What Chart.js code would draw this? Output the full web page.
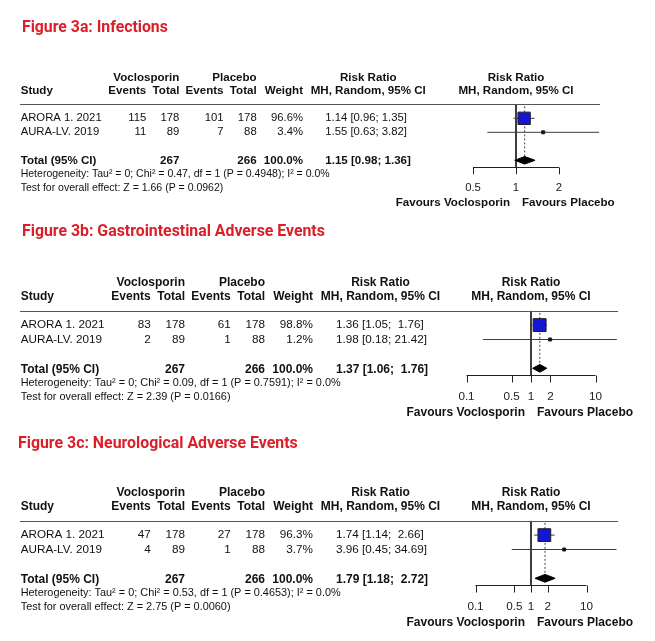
<!DOCTYPE html>
<html>
<head>
<meta charset="utf-8">
<script src="https://cdn.jsdelivr.net/npm/chart.js@4.4.1/dist/chart.umd.min.js"></script>
<style>
  html, body { margin: 0; padding: 0; background: #fff; }
  body { width: 655px; height: 641px; position: relative; overflow: hidden; }
  canvas { position: absolute; left: 0; }
</style>
</head>
<body>
<canvas id="figA" width="655" height="210" style="top:4px"></canvas>
<canvas id="figB" width="655" height="210" style="top:210px"></canvas>
<canvas id="figC" width="655" height="221" style="top:420px"></canvas>
<script>
// shared study info
const studies = ["ARORA 1. 2021", "AURA-LV. 2019"];
const vocTotals = [178, 89];
const plaTotals = [178, 88];

// figure 3a - infections
const infVocEvents = [115, 11];
const infPlaEvents = [101, 7];
const infWeights = [96.6, 3.4];
const infRR = [1.14, 1.55];
const infLower = [0.96, 0.63];
const infUpper = [1.35, 3.82];
const infPooled = [1.15, 0.98, 1.36];
const infHet = [0.47, 0.4948, 1.66, 0.0962]; // chi2, p, z, p
const infTicks = [0.5, 1, 2];

// figure 3b - gastrointestinal
const giVocEvents = [83, 2];
const giPlaEvents = [61, 1];
const giWeights = [98.8, 1.2];
const giRR = [1.36, 1.98];
const giLower = [1.05, 0.18];
const giUpper = [1.76, 21.42];
const giPooled = [1.37, 1.06, 1.76];
const giHet = [0.09, 0.7591, 2.39, 0.0166];
const giTicks = [0.1, 0.5, 1, 2, 10];

// figure 3c - neurological
const neuVocEvents = [47, 4];
const neuPlaEvents = [27, 1];
const neuWeights = [96.3, 3.7];
const neuRR = [1.74, 3.96];
const neuLower = [1.14, 0.45];
const neuUpper = [2.66, 34.69];
const neuPooled = [1.79, 1.18, 2.72];
const neuHet = [0.53, 0.4653, 2.75, 0.0060];
const neuTicks = [0.1, 0.5, 1, 2, 10];

const FONT = '"Liberation Sans", Arial, sans-serif';

const rowsA = { h1: -1.9, h2: -0.95, total: 4.07, diamond: 4.0, het: 5.02, test: 5.97, axis: 4.47, tickLab: 6.0, fav: 7.07 };
const rowsBC = { h1: -1.92, h2: -0.95, total: 4.07, diamond: 4.0, het: 5.05, test: 5.97, axis: 4.47, tickLab: 6.01, fav: 7.08 };

const panels = [
  { id: 'figA', h: 210, title: 'Figure 3a: Infections', titleX: 22, titleY: 24.5, titleW: 146,
    s: 0.966, top: 100.3, step: 14, ref: 516, ppd: 142.8, left: 440, right: 600, rows: rowsA,
    ev1: infVocEvents, ev2: infPlaEvents, w: infWeights, rr: infRR, lo: infLower, hi: infUpper,
    pooled: infPooled, het: infHet, ticks: infTicks },
  { id: 'figB', h: 210, title: 'Figure 3b: Gastrointestinal Adverse Events', titleX: 22, titleY: 21.7, titleW: 303,
    s: 1, top: 100.7, step: 14.4, ref: 531, ppd: 64.5, left: 440, right: 618, rows: rowsBC,
    ev1: giVocEvents, ev2: giPlaEvents, w: giWeights, rr: giRR, lo: giLower, hi: giUpper,
    pooled: giPooled, het: giHet, ticks: giTicks },
  { id: 'figC', h: 221, title: 'Figure 3c: Neurological Adverse Events', titleX: 18, titleY: 24, titleW: 280,
    s: 1, top: 100.7, step: 14.4, ref: 531, ppd: 55.5, left: 440, right: 618, rows: rowsBC,
    ev1: neuVocEvents, ev2: neuPlaEvents, w: neuWeights, rr: neuRR, lo: neuLower, hi: neuUpper,
    pooled: neuPooled, het: neuHet, ticks: neuTicks }
];

function ciText(est, lo, hi, width) {
  return est.toFixed(2) + ' [' + lo.toFixed(2) + '; ' + hi.toFixed(2).padStart(width) + ']';
}

function buildDatasets(p) {
  const d = p.rows.diamond, hh = 0.27;
  const sets = [];
  // weighted squares
  sets.push({
    data: studies.map((_, i) => ({ x: p.rr[i], y: i + 1 })),
    pointStyle: 'rect',
    pointRadius: p.w.map(w => Math.max(1.3 * p.s * Math.sqrt(w), 3) / Math.SQRT2),
    backgroundColor: p.w.map(w => w > 10 ? '#1616d2' : '#111'),
    borderColor: '#1c1c2c',
    borderWidth: 1
  });
  // confidence intervals
  studies.forEach((_, i) => {
    sets.push({
      data: [{ x: p.lo[i], y: i + 1 }, { x: p.hi[i], y: i + 1 }],
      showLine: true, pointRadius: 0, borderColor: '#3c3c3c', borderWidth: 1
    });
  });
  // pooled diamond
  const [est, plo, phi] = p.pooled;
  sets.push({
    data: [{ x: plo, y: d }, { x: est, y: d - hh }, { x: phi, y: d }, { x: est, y: d + hh }, { x: plo, y: d }],
    showLine: true, pointRadius: 0, fill: 'shape',
    backgroundColor: '#000', borderColor: '#000', borderWidth: 1
  });
  // dotted line at pooled estimate
  sets.push({
    data: [{ x: est, y: 0.15 }, { x: est, y: d }],
    showLine: true, pointRadius: 0, borderColor: '#444', borderWidth: 1, borderDash: [2, 2]
  });
  // line of no effect
  sets.push({
    data: [{ x: 1, y: 0 }, { x: 1, y: p.rows.axis }],
    showLine: true, pointRadius: 0, borderColor: '#222', borderWidth: 1
  });
  return sets;
}

function forestText(p) {
  return {
    id: 'forestText',
    afterDraw(chart) {
      const ctx = chart.ctx, xs = chart.scales.x, ys = chart.scales.y, area = chart.chartArea;
      const R = p.rows;
      const Y = v => ys.getPixelForValue(v);
      const X = xb => 20 + (xb - 20) * p.s;
      const reg = (11.7 * p.s) + 'px ' + FONT;
      const bold = 'bold ' + (12 * p.s) + 'px ' + FONT;
      const small = (10.9 * p.s) + 'px ' + FONT;
      const txt = (str, x, y, align, font, color) => {
        ctx.font = font; ctx.textAlign = align; ctx.textBaseline = 'middle';
        ctx.fillStyle = color || '#111'; ctx.fillText(str, x, y);
      };
      ctx.save();

      // title, sized to the reference width
      ctx.font = 'bold 20px Roboto';
      const tSize = 20 * p.titleW / ctx.measureText(p.title).width;
      txt(p.title, p.titleX, p.titleY, 'left', 'bold ' + tSize + 'px Roboto', '#dc1e28');

      // header
      txt('Voclosporin', X(185), Y(R.h1), 'right', bold);
      txt('Placebo', X(265), Y(R.h1), 'right', bold);
      txt('Risk Ratio', X(380.5), Y(R.h1), 'center', bold);
      txt('Study', X(20.7), Y(R.h2), 'left', bold);
      txt('Events', X(150.7), Y(R.h2), 'right', bold);
      txt('Total', X(185), Y(R.h2), 'right', bold);
      txt('Events', X(230.7), Y(R.h2), 'right', bold);
      txt('Total', X(265), Y(R.h2), 'right', bold);
      txt('Weight', X(313), Y(R.h2), 'right', bold);
      txt('MH, Random, 95% CI', X(380.5), Y(R.h2), 'center', bold);
      const x1 = xs.getPixelForValue(1);
      txt('Risk Ratio', x1, Y(R.h1), 'center', bold);
      txt('MH, Random, 95% CI', x1, Y(R.h2), 'center', bold);

      // rule under the header
      ctx.strokeStyle = '#555'; ctx.lineWidth = 1;
      const ty = Math.round(Y(0)) + 0.5;
      ctx.beginPath(); ctx.moveTo(X(20), ty); ctx.lineTo(area.right, ty); ctx.stroke();

      // study rows
      const width = Math.max(...p.hi.map(v => v.toFixed(2).length), p.pooled[2].toFixed(2).length);
      studies.forEach((name, i) => {
        const y = Y(i + 1);
        txt(name, X(20.7), y, 'left', reg);
        txt(String(p.ev1[i]), X(150.7), y, 'right', reg);
        txt(String(vocTotals[i]), X(185), y, 'right', reg);
        txt(String(p.ev2[i]), X(230.7), y, 'right', reg);
        txt(String(plaTotals[i]), X(265), y, 'right', reg);
        txt(p.w[i].toFixed(1) + '%', X(313), y, 'right', reg);
        txt(ciText(p.rr[i], p.lo[i], p.hi[i], width), X(336), y, 'left', reg);
      });

      // total row
      const yt = Y(R.total);
      txt('Total (95% CI)', X(20.7), yt, 'left', bold);
      txt(String(vocTotals.reduce((a, b) => a + b, 0)), X(185), yt, 'right', bold);
      txt(String(plaTotals.reduce((a, b) => a + b, 0)), X(265), yt, 'right', bold);
      txt(p.w.reduce((a, b) => a + b, 0).toFixed(1) + '%', X(313), yt, 'right', bold);
      txt(ciText(p.pooled[0], p.pooled[1], p.pooled[2], width), X(336), yt, 'left', bold);

      const [chi, ph, z, pz] = p.het;
      txt('Heterogeneity: Tau\u00b2 = 0; Chi\u00b2 = ' + chi.toFixed(2) + ', df = 1 (P = ' + ph.toFixed(4) + '); I\u00b2 = 0.0%',
          X(20.7), Y(R.het), 'left', small);
      txt('Test for overall effect: Z = ' + z.toFixed(2) + ' (P = ' + pz.toFixed(4) + ')', X(20.7), Y(R.test), 'left', small);

      // bottom axis
      const ay = Math.round(Y(R.axis)) + 0.5;
      const t0 = xs.getPixelForValue(p.ticks[0]), t1 = xs.getPixelForValue(p.ticks[p.ticks.length - 1]);
      ctx.strokeStyle = '#222';
      ctx.beginPath(); ctx.moveTo(t0, ay); ctx.lineTo(t1, ay);
      p.ticks.forEach(t => {
        const tx = Math.round(xs.getPixelForValue(t)) + 0.5;
        ctx.moveTo(tx, ay); ctx.lineTo(tx, ay + 7 * p.s);
      });
      ctx.stroke();
      p.ticks.forEach(t => txt(String(t), xs.getPixelForValue(t), Y(R.tickLab), 'center', reg, '#222'));

      txt('Favours Voclosporin', x1 - 6, Y(R.fav), 'right', bold);
      txt('Favours Placebo', x1 + 6, Y(R.fav), 'left', bold);
      ctx.restore();
    }
  };
}

panels.forEach(p => {
  new Chart(document.getElementById(p.id), {
    type: 'scatter',
    data: { datasets: buildDatasets(p) },
    options: {
      responsive: false,
      animation: false,
      layout: { padding: { left: p.left, right: 655 - p.right, top: p.top, bottom: p.h - p.top - p.step * 5 } },
      scales: {
        x: { type: 'logarithmic', display: false,
             min: Math.pow(10, (p.left - p.ref) / p.ppd), max: Math.pow(10, (p.right - p.ref) / p.ppd) },
        y: { type: 'linear', display: false, reverse: true, min: 0, max: 5 }
      },
      plugins: { legend: { display: false }, tooltip: { enabled: false } }
    },
    plugins: [forestText(p)]
  });
});
</script>
</body>
</html>
